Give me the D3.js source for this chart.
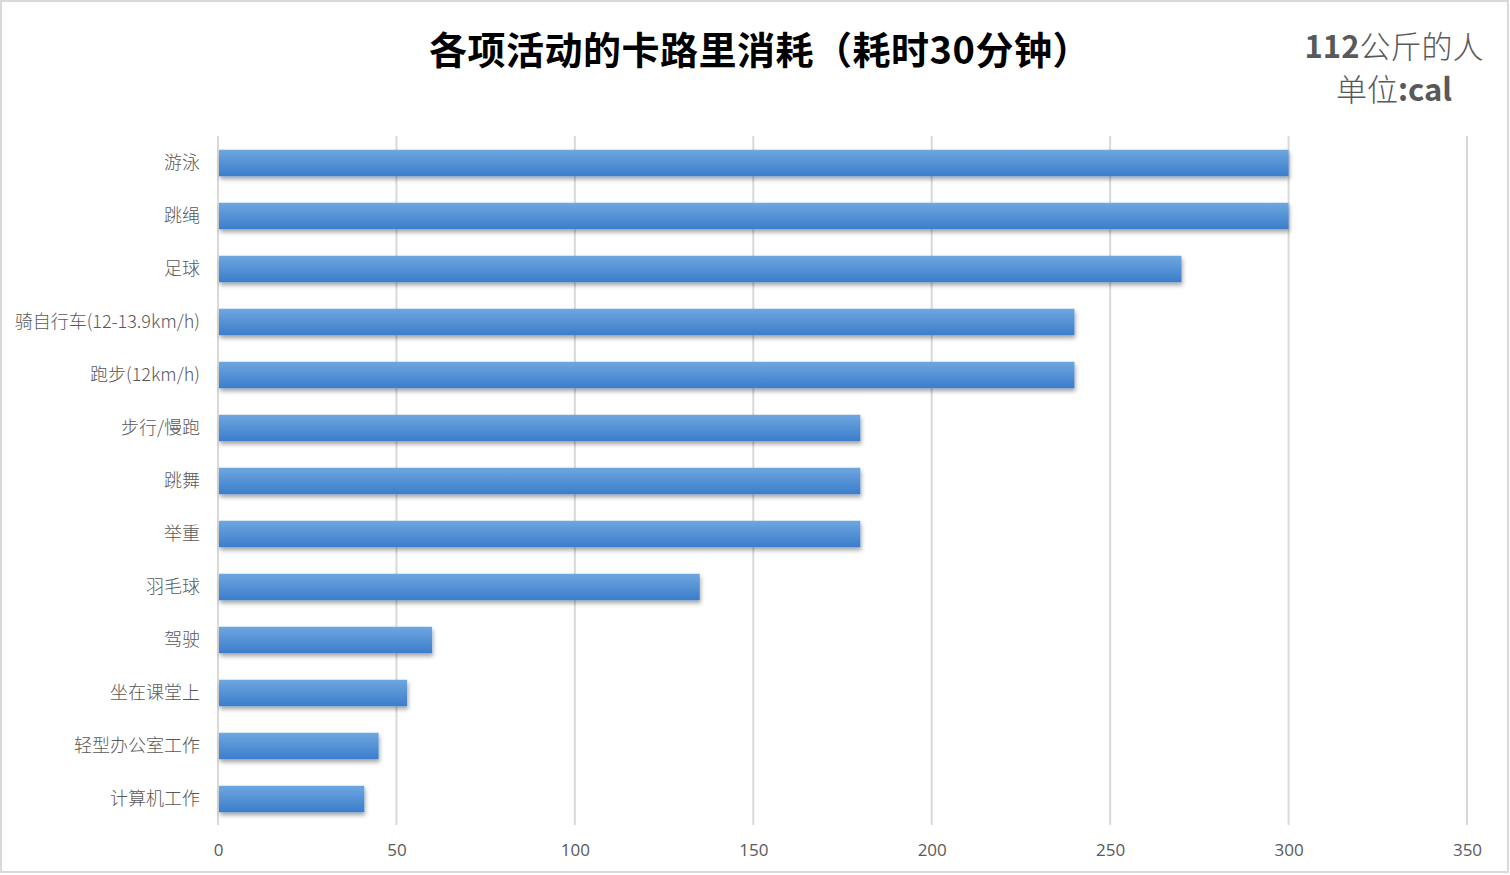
<!DOCTYPE html>
<html>
<head>
<meta charset="utf-8">
<script src="https://cdn.jsdelivr.net/npm/d3@7"></script>
<style>
  body { margin: 0; background: #fff; }
  svg { display: block; font-family: "Noto Sans CJK SC", "Noto Sans", sans-serif; }
</style>
</head>
<body>
<svg id="chart" width="1510" height="875"></svg>
<script>
var categories = ["游泳", "跳绳", "足球", "骑自行车(12-13.9km/h)", "跑步(12km/h)", "步行/慢跑", "跳舞", "举重", "羽毛球", "驾驶", "坐在课堂上", "轻型办公室工作", "计算机工作"];
var calories = [300, 300, 270, 240, 240, 180, 180, 180, 135, 60, 53, 45, 41];
var xTicks = [0, 50, 100, 150, 200, 250, 300, 350];

var svg = d3.select("#chart");

// outer border
svg.append("rect")
  .attr("x", 1).attr("y", 1)
  .attr("width", 1507).attr("height", 871)
  .attr("fill", "#fff")
  .attr("stroke", "#d9d9d9")
  .attr("stroke-width", 2);

var defs = svg.append("defs");
var grad = defs.append("linearGradient")
  .attr("id", "barGrad")
  .attr("x1", 0).attr("y1", 0).attr("x2", 0).attr("y2", 1);
grad.append("stop").attr("offset", "0%").attr("stop-color", "#6ea7e0");
grad.append("stop").attr("offset", "100%").attr("stop-color", "#3b7dcb");

var shadow = defs.append("filter").attr("id", "shadow")
  .attr("x", "-5%").attr("y", "-30%").attr("width", "110%").attr("height", "190%");
shadow.append("feDropShadow")
  .attr("dx", 1).attr("dy", 3).attr("stdDeviation", 2)
  .attr("flood-color", "#000").attr("flood-opacity", 0.35);

var x = d3.scaleLinear()
  .domain([0, 350])
  .range([218, 1467]);

var y = d3.scaleBand()
  .domain(categories)
  .range([136.5, 825.5])
  .paddingInner(0.5)
  .paddingOuter(0.25);

// gridlines
svg.append("g")
  .selectAll("line")
  .data(xTicks)
  .join("line")
  .attr("x1", function(d) { return x(d); })
  .attr("x2", function(d) { return x(d); })
  .attr("y1", 136)
  .attr("y2", 825)
  .attr("stroke", "#d9d9d9")
  .attr("stroke-width", 2);

// bars
svg.append("g")
  .selectAll("rect")
  .data(calories)
  .join("rect")
  .attr("x", x(0) + 1)
  .attr("y", function(d, i) { return y(categories[i]); })
  .attr("width", function(d) { return x(d) - x(0) - 1; })
  .attr("height", y.bandwidth())
  .attr("fill", "url(#barGrad)")
  .attr("filter", "url(#shadow)");

// x axis labels
var xAxis = d3.axisBottom(x).tickValues(xTicks).tickSize(0).tickPadding(10);
var gx = svg.append("g")
  .attr("transform", "translate(0,834)")
  .call(xAxis);
gx.select(".domain").remove();
gx.selectAll("text")
  .attr("font-size", 17)
  .attr("font-family", "'Open Sans', 'Noto Sans', sans-serif")
  .attr("fill", "#595959");

// y axis labels
var yAxis = d3.axisLeft(y).tickSize(0).tickPadding(18);
var gy = svg.append("g")
  .attr("transform", "translate(218,0)")
  .call(yAxis);
gy.select(".domain").remove();
gy.selectAll("text")
  .attr("font-size", 18)
  .attr("font-weight", 300)
  .attr("font-family", "'Noto Sans CJK SC', sans-serif")
  .attr("fill", "#595959");

// title
svg.append("text")
  .attr("x", 760)
  .attr("y", 64)
  .attr("text-anchor", "middle")
  .attr("font-size", 38)
  .attr("letter-spacing", 0.5)
  .attr("font-weight", "bold")
  .attr("fill", "#000")
  .text("各项活动的卡路里消耗（耗时30分钟）");

// top-right note
var note1 = svg.append("text")
  .attr("x", 1394).attr("y", 58)
  .attr("text-anchor", "middle")
  .attr("font-size", 31)
  .attr("fill", "#595959");
note1.append("tspan").attr("font-weight", "bold").text("112");
note1.append("tspan").attr("font-weight", 300).text("公斤的人");

var note2 = svg.append("text")
  .attr("x", 1394).attr("y", 101)
  .attr("text-anchor", "middle")
  .attr("font-size", 31)
  .attr("fill", "#595959");
note2.append("tspan").attr("font-weight", 300).text("单位");
note2.append("tspan").attr("font-weight", "bold").text(":cal");
</script>
</body>
</html>
